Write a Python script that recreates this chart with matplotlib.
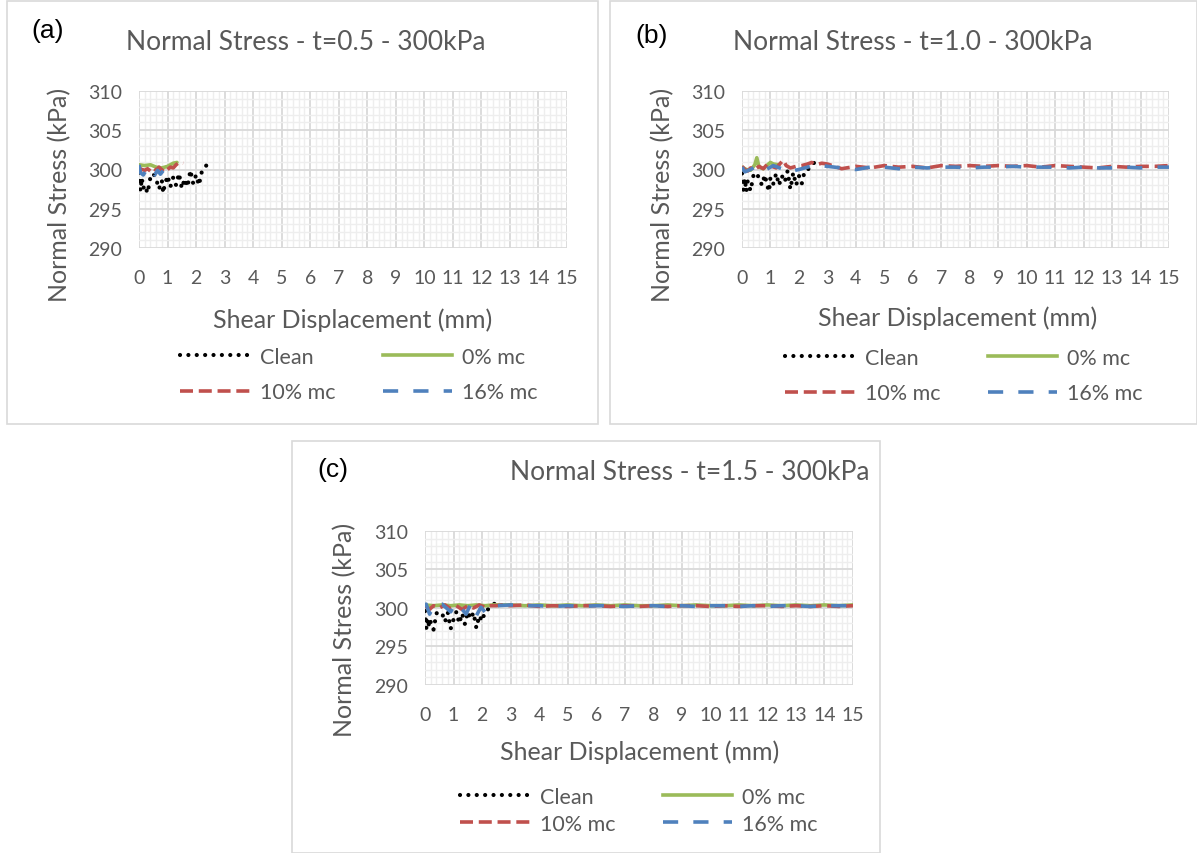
import matplotlib
matplotlib.use("Agg")
import matplotlib.pyplot as plt
from matplotlib.lines import Line2D
from matplotlib.patches import Rectangle
from matplotlib.ticker import MultipleLocator

W, H = 1197, 854
GRAY = "#595959"
FONT = "Lato"

# shared tail positions (mm) used by the long runs in (b) and (c)
tail_x = [3.0, 3.5, 4.0, 4.5, 5.0, 5.5, 6.0, 6.5, 7.0, 7.5, 8.0, 8.5, 9.0,
          9.5, 10.0, 10.5, 11.0, 11.5, 12.0, 12.5, 13.0, 13.5, 14.0, 14.5, 15.0]

# ---- panel (a): t=0.5 ----
clean_a_x = [0, 0.05, 0.1, 0.15, 0.2, 0.3, 0.4, 0.5, 0.6, 0.7, 0.8, 0.85, 0.9, 1.0,
             1.1, 1.2, 1.3, 1.4, 1.5, 1.6, 1.7, 1.8, 1.9, 2.0, 2.1, 2.2, 2.3, 2.45]
clean_a_y = [299.6, 297.3, 298.9, 297.6, 298.0, 297.0, 299.0, 299.5, 298.8, 297.5, 298.6,
             297.0, 298.0, 299.2, 297.8, 299.0, 298.0, 299.5, 297.6, 298.8, 297.8, 299.9,
             298.2, 299.3, 298.0, 299.7, 300.2, 301.0]
mc0_a_x = [0, 0.2, 0.4, 0.6, 0.8, 1.0, 1.1, 1.2, 1.33]
mc0_a_y = [300.6, 300.5, 300.6, 300.3, 300.2, 300.4, 300.6, 300.8, 300.9]
mc10_a_x = [0, 0.1, 0.2, 0.3, 0.4, 0.5, 0.6, 0.7, 0.8, 0.9, 1.0, 1.1, 1.2, 1.3, 1.4, 1.55]
mc10_a_y = [300.2, 300.0, 299.9, 300.1, 299.8, 300.2, 299.9, 300.3, 299.9, 300.3,
            300.0, 300.3, 300.2, 300.6, 300.9, 300.8]
mc16_a_x = [0, 0.05, 0.15, 0.3, 0.45, 0.55, 0.65, 0.75, 0.9]
mc16_a_y = [300.6, 299.6, 299.3, 300.2, 300.0, 299.3, 299.9, 299.4, 300.1]

# ---- panel (b): t=1.0 ----
clean_b_x = [0, 0.05, 0.1, 0.15, 0.2, 0.3, 0.4, 0.5, 0.6, 0.7, 0.8, 0.9, 0.95, 1.0,
             1.1, 1.2, 1.3, 1.4, 1.5, 1.6, 1.7, 1.8, 1.9, 2.0, 2.1, 2.2, 2.4, 2.62]
clean_b_y = [299.5, 297.4, 298.8, 297.2, 298.5, 297.3, 299.2, 299.6, 298.9, 298.0, 299.3,
             297.8, 297.2, 299.0, 298.2, 299.5, 298.0, 299.2, 298.4, 299.8, 297.5, 299.6,
             298.0, 299.2, 298.2, 299.8, 300.2, 301.3]
mc0_b_x = [0, 0.15, 0.3, 0.45, 0.52, 0.6, 0.75, 0.9, 1.0, 1.1, 1.3]
mc0_b_y = [300.3, 300.0, 299.9, 300.6, 301.5, 300.3, 300.1, 300.6, 300.9, 300.7, 300.6]
mc10_b_x = [0, 0.1, 0.2, 0.3, 0.45, 0.6, 0.75, 0.9, 1.05, 1.2, 1.35, 1.45, 1.55, 1.7,
            1.9, 2.1, 2.3, 2.45, 2.6, 2.8] + tail_x
mc10_b_y = [300.4, 300.0, 299.8, 300.2, 300.0, 300.4, 300.1, 300.7, 300.4, 300.2, 300.8,
            301.2, 300.5, 300.2, 300.4, 300.5, 300.7, 300.9, 300.6, 300.8,
            300.7, 300.1, 300.4, 300.2, 300.5, 300.3, 300.4, 300.2, 300.5, 300.4, 300.5,
            300.4, 300.5, 300.4, 300.5, 300.3, 300.5, 300.4, 300.3, 300.2, 300.4, 300.3,
            300.4, 300.4, 300.5]
mc16_b_x = [0, 0.1, 0.3, 0.5, 0.8, 1.1, 1.4, 1.6, 2.0, 2.3, 2.6] + tail_x
mc16_b_y = [300.3, 299.7, 300.0, 300.4, 299.9, 300.5, 300.1, 299.7, 300.0, 300.3, 300.6,
            300.4, 300.2, 300.0, 300.3, 300.3, 300.1, 300.3, 300.2, 300.3, 300.3, 300.2,
            300.3, 300.3, 300.4, 300.3, 300.3, 300.3, 300.2, 300.3, 300.2, 300.2, 300.3,
            300.2, 300.3, 300.3]

# ---- panel (c): t=1.5 ----
clean_c_x = [0, 0.05, 0.1, 0.15, 0.2, 0.3, 0.4, 0.5, 0.6, 0.7, 0.8, 0.9, 1.0, 1.1,
             1.2, 1.3, 1.4, 1.5, 1.6, 1.7, 1.8, 1.9, 2.0, 2.1, 2.2, 2.4, 2.59]
clean_c_y = [299.6, 297.3, 298.6, 297.5, 298.2, 297.2, 299.3, 299.5, 299.3, 298.2, 299.4,
             297.3, 298.5, 299.5, 298.0, 299.3, 297.9, 299.5, 298.6, 299.4, 297.4, 299.0,
             298.3, 299.5, 299.8, 300.4, 301.3]
mc0_c_x = [0, 0.3, 0.6, 0.9, 1.2, 1.5, 1.8, 2.1, 2.4, 2.7] + tail_x
mc0_c_y = [300.4, 300.3, 300.4, 300.3, 300.4, 300.3, 300.4, 300.3, 300.4, 300.4,
           300.4, 300.3, 300.4, 300.3, 300.4, 300.3, 300.4, 300.3, 300.4, 300.3, 300.3,
           300.4, 300.3, 300.4, 300.3, 300.3, 300.4, 300.3, 300.4, 300.3, 300.4, 300.3,
           300.4, 300.3, 300.4]
mc10_c_x = [0, 0.15, 0.3, 0.5, 0.7, 0.9, 1.1, 1.3, 1.5, 1.7, 1.9, 2.1, 2.3, 2.5, 2.7] + tail_x
mc10_c_y = [300.3, 299.8, 300.3, 300.0, 300.4, 299.9, 300.3, 299.8, 300.3, 300.0, 300.4,
            300.1, 300.3, 300.3, 300.4,
            300.3, 300.4, 300.2, 300.3, 300.2, 300.3, 300.3, 300.2, 300.3, 300.2, 300.3,
            300.2, 300.3, 300.3, 300.2, 300.3, 300.2, 300.3, 300.3, 300.2, 300.3, 300.2,
            300.3, 300.2, 300.3]
mc16_c_x = [0, 0.04, 0.16, 0.3, 0.45, 0.6, 0.9, 1.04, 1.2, 1.44, 1.6, 1.8, 1.96, 2.1,
            2.25, 2.5] + tail_x
mc16_c_y = [300.3, 300.5, 299.2, 300.3, 300.5, 300.5, 299.5, 300.5, 300.3, 299.2, 300.5,
            299.0, 300.1, 299.5, 300.1, 300.3,
            300.4, 300.3, 300.3, 300.2, 300.3, 300.2, 300.3, 300.3, 300.2, 300.3, 300.3,
            300.2, 300.3, 300.2, 300.3, 300.3, 300.2, 300.3, 300.2, 300.3, 300.3, 300.2,
            300.3, 300.3, 300.3]

x_ticks = list(range(0, 16))
y_ticks = [290, 295, 300, 305, 310]
series_labels = ["Clean", "0% mc", "10% mc", "16% mc"]
titles = ["Normal Stress - t=0.5 - 300kPa", "Normal Stress - t=1.0 - 300kPa",
          "Normal Stress - t=1.5 - 300kPa"]
tags = ["(a)", "(b)", "(c)"]

STYLES = {
    "Clean": dict(color="black", lw=3.0, linestyle=(0, (0.01, 2.0)), dash_capstyle="round"),
    "0% mc": dict(color="#9BBB59", lw=2.6, linestyle="-"),
    "10% mc": dict(color="#C0504D", lw=2.6, linestyle=(0, (3.6, 1.6)), dash_capstyle="butt"),
    "16% mc": dict(color="#4F81BD", lw=2.6, linestyle=(0, (4.2, 4.2)), dash_capstyle="butt"),
}


def fx(px):
    return px / W


def fy(py):
    return 1 - py / H


def panel(fig, box, ax_px, data, title, tag, title_xy, tag_xy, ylab_xy, xlab_xy, leg_xy, leg_sp):
    x0, y0, x1, y1 = box
    fig.patches.append(Rectangle((fx(x0), fy(y1)), fx(x1) - fx(x0), fy(y0) - fy(y1),
                                 transform=fig.transFigure, fill=False,
                                 edgecolor="#D9D9D9", lw=1.2))
    l, t, r, b = ax_px
    ax = fig.add_axes([fx(l), fy(b), fx(r) - fx(l), fy(t) - fy(b)])
    for name, (xs, ys) in zip(series_labels, data):
        ax.plot(xs, ys, label=name, solid_capstyle="round", **STYLES[name])
    ax.set_xlim(0, 15)
    ax.set_ylim(290, 310)
    ax.set_xticks(x_ticks)
    ax.set_yticks(y_ticks)
    ax.xaxis.set_minor_locator(MultipleLocator(0.2))
    ax.yaxis.set_minor_locator(MultipleLocator(1))
    ax.grid(which="major", color="#D9D9D9", lw=1.3)
    ax.grid(which="minor", color="#EEEEEE", lw=1.0)
    ax.set_axisbelow(True)
    for s in ax.spines.values():
        s.set_visible(False)
    ax.tick_params(which="both", length=0)
    ax.tick_params(axis="x", pad=15)
    ax.tick_params(axis="y", pad=12)
    for lab in ax.get_xticklabels() + ax.get_yticklabels():
        lab.set_fontfamily(FONT)
        lab.set_fontsize(14)
        lab.set_color(GRAY)

    fig.text(fx(title_xy[0]), fy(title_xy[1]), title, ha="center", va="center",
             fontsize=19, color=GRAY, family=FONT)
    fig.text(fx(tag_xy[0]), fy(tag_xy[1]), tag, ha="center", va="center",
             fontsize=19, color="black", family="Liberation Sans")
    fig.text(fx(ylab_xy[0]), fy(ylab_xy[1]), "Normal Stress (kPa)", rotation=90,
             ha="center", va="center", fontsize=18, color=GRAY, family=FONT)
    fig.text(fx(xlab_xy[0]), fy(xlab_xy[1]), "Shear Displacement (mm)",
             ha="center", va="center", fontsize=18, color=GRAY, family=FONT)

    order = ["Clean", "10% mc", "0% mc", "16% mc"]
    proxies = [Line2D([], [], **STYLES[n]) for n in order]
    leg = ax.legend(proxies, order, ncol=2, loc="upper left",
                    bbox_to_anchor=(fx(leg_xy[0]), fy(leg_xy[1])),
                    bbox_transform=fig.transFigure, frameon=False,
                    handlelength=3.25, handletextpad=0.45, columnspacing=2.2,
                    labelspacing=leg_sp, borderpad=0, borderaxespad=0,
                    prop={"family": FONT, "size": 15.5})
    for txt in leg.get_texts():
        txt.set_color(GRAY)
    return ax


fig = plt.figure(figsize=(W / 100, H / 100), dpi=100)

panel(fig, (7, 2, 598, 425), (139, 92, 567, 249),
      [(clean_a_x, clean_a_y), (mc0_a_x, mc0_a_y), (mc10_a_x, mc10_a_y), (mc16_a_x, mc16_a_y)],
      titles[0], tags[0], (306, 43), (48, 31), (60, 195), (353, 320), (180, 348), 0.7)
panel(fig, (610, 2, 1197, 425), (742, 92, 1169, 249),
      [(clean_b_x, clean_b_y), (mc0_b_x, mc0_b_y), (mc10_b_x, mc10_b_y), (mc16_b_x, mc16_b_y)],
      titles[1], tags[1], (913, 43), (652, 36), (663, 195), (958, 318), (785, 349), 0.7)
panel(fig, (292, 442, 880, 854), (425, 532, 853, 686),
      [(clean_c_x, clean_c_y), (mc0_c_x, mc0_c_y), (mc10_c_x, mc10_c_y), (mc16_c_x, mc16_c_y)],
      titles[2], tags[2], (690, 473), (333, 470), (345, 630), (640, 752), (460, 788), 0.32)

fig.savefig("out.png", dpi=100)
